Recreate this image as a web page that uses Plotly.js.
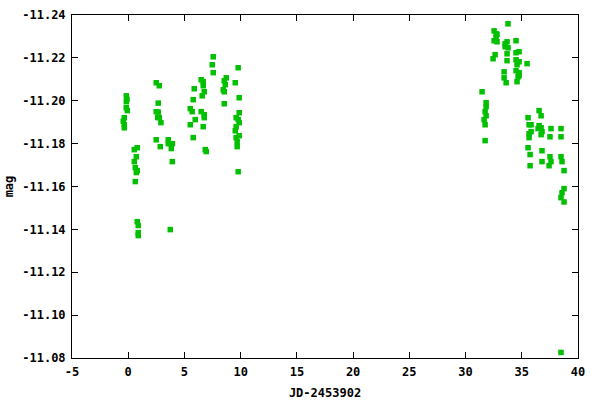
<!DOCTYPE html>
<html>
<head>
<meta charset="utf-8">
<script src="https://cdn.plot.ly/plotly-3.0.1.min.js"></script>
<style>html,body{margin:0;padding:0;background:#fff;}#chart{width:600px;height:400px;}</style>
</head>
<body>
<div id="chart"></div>
<script>
// JD - 2453902
const jd = [
  -0.17,-0.11,-0.17,-0.17,-0.08,-0.35,-0.44,-0.35,-0.35,
  0.80,0.54,0.72,0.54,0.63,0.80,0.72,0.63,0.80,0.89,0.89,0.89,
  2.49,2.76,2.67,2.67,2.49,2.62,2.76,2.91,2.49,2.85,
  3.56,3.56,3.92,3.83,3.92,3.74,
  6.49,6.67,6.67,5.87,6.76,6.58,5.78,5.52,5.69,6.49,6.76,6.76,5.96,5.52,6.67,5.78,6.85,6.94,
  7.56,7.47,7.56,8.72,8.54,8.63,8.45,8.54,8.54,
  9.78,9.52,9.87,9.87,9.60,9.78,9.87,9.60,9.52,9.87,9.60,9.69,9.69,9.78,
  31.47,31.83,31.83,31.74,31.83,31.65,31.74,31.74,
  33.78,32.54,32.72,32.80,32.72,32.54,32.80,34.49,33.69,33.52,33.52,33.78,34.76,34.49,33.69,32.63,
  32.45,33.69,34.49,34.76,34.58,35.47,33.43,34.49,34.76,34.76,33.43,34.67,33.61,34.58,
  35.56,36.54,36.72,35.65,35.83,36.54,36.45,36.72,37.60,38.49,35.83,36.80,35.65,36.72,35.65,
  37.51,38.49,35.56,36.80,35.74,37.51,38.49,36.80,37.60,37.43,35.74,38.58,38.76,38.76,38.58,
  38.49,38.76,38.49
];
const mag = [
  -11.2023,-11.2006,-11.1996,-11.1968,-11.1954,-11.1921,-11.1905,-11.1888,-11.1874,
  -11.1781,-11.1772,-11.1739,-11.1716,-11.1688,-11.1674,-11.1665,-11.1623,-11.1436,-11.1418,-11.1385,-11.1371,
  -11.2084,-11.2070,-11.1989,-11.1947,-11.1949,-11.1922,-11.1921,-11.1898,-11.1818,-11.1786,
  -11.1818,-11.1800,-11.1800,-11.1777,-11.1716,-11.1399,
  -11.2098,-11.2089,-11.2070,-11.2056,-11.2042,-11.2023,-11.2005,-11.1963,-11.1949,-11.1949,-11.1935,-11.1921,-11.1912,-11.1888,-11.1879,-11.1828,-11.1772,-11.1763,
  -11.2205,-11.2168,-11.2131,-11.2107,-11.2093,-11.2075,-11.2051,-11.2042,-11.1986,
  -11.2154,-11.2084,-11.2014,-11.1944,-11.1921,-11.1912,-11.1898,-11.1879,-11.1860,-11.1837,-11.1828,-11.1809,-11.1786,-11.1669,
  -11.2042,-11.1991,-11.1972,-11.1949,-11.1930,-11.1912,-11.1888,-11.1814,
  -11.2359,-11.2326,-11.2312,-11.2310,-11.2294,-11.2280,-11.2275,-11.2280,-11.2275,-11.2266,-11.2252,-11.2247,-11.2229,-11.2224,-11.2219,-11.2215,
  -11.2196,-11.2187,-11.2191,-11.2182,-11.2168,-11.2173,-11.2135,-11.2140,-11.2131,-11.2117,-11.2107,-11.2112,-11.2084,-11.2089,
  -11.1921,-11.1954,-11.1930,-11.1888,-11.1888,-11.1884,-11.1870,-11.1874,-11.1870,-11.1870,-11.1856,-11.1856,-11.1846,-11.1842,-11.1828,
  -11.1832,-11.1832,-11.1781,-11.1767,-11.1749,-11.1739,-11.1739,-11.1716,-11.1716,-11.1697,-11.1697,-11.1716,-11.1674,-11.1590,-11.1571,
  -11.1548,-11.1528,-11.0826
];
const xTicks = [-5,0,5,10,15,20,25,30,35,40];
const yTicks = [-11.24,-11.22,-11.20,-11.18,-11.16,-11.14,-11.12,-11.10,-11.08];
const yTickText = ['-11.24','-11.22','-11.20','-11.18','-11.16','-11.14','-11.12','-11.10','-11.08'];

const font = {family: 'DejaVu Sans Mono, monospace', size: 12, color: '#000', weight: 'bold'};

Plotly.newPlot('chart', [{
  x: jd, y: mag, type: 'scatter', mode: 'markers',
  marker: {symbol: 'square', size: 5.5, color: '#00c000', line: {width: 0}},
  hoverinfo: 'skip'
}], {
  width: 600, height: 400,
  margin: {l: 72, r: 22, t: 15, b: 42},
  paper_bgcolor: '#fff', plot_bgcolor: '#fff',
  showlegend: false,
  font: font,
  xaxis: {
    range: [-5, 40], tickvals: xTicks, ticktext: xTicks.map(String),
    showgrid: false, zeroline: false, showline: true, linecolor: '#000', linewidth: 1,
    mirror: 'ticks', ticks: 'inside', ticklen: 6, tickcolor: '#000',
    tickfont: font, automargin: false, ticklabelstandoff: 3,
    title: {text: 'JD-2453902', font: font, standoff: 10}
  },
  yaxis: {
    range: [-11.08, -11.24], tickvals: yTicks, ticktext: yTickText,
    showgrid: false, zeroline: false, showline: true, linecolor: '#000', linewidth: 1,
    mirror: 'ticks', ticks: 'inside', ticklen: 6, tickcolor: '#000',
    tickfont: font, automargin: false, ticklabelstandoff: 3,
    title: {text: 'mag', font: font, standoff: 6}
  }
}, {staticPlot: true});
</script>
</body>
</html>
